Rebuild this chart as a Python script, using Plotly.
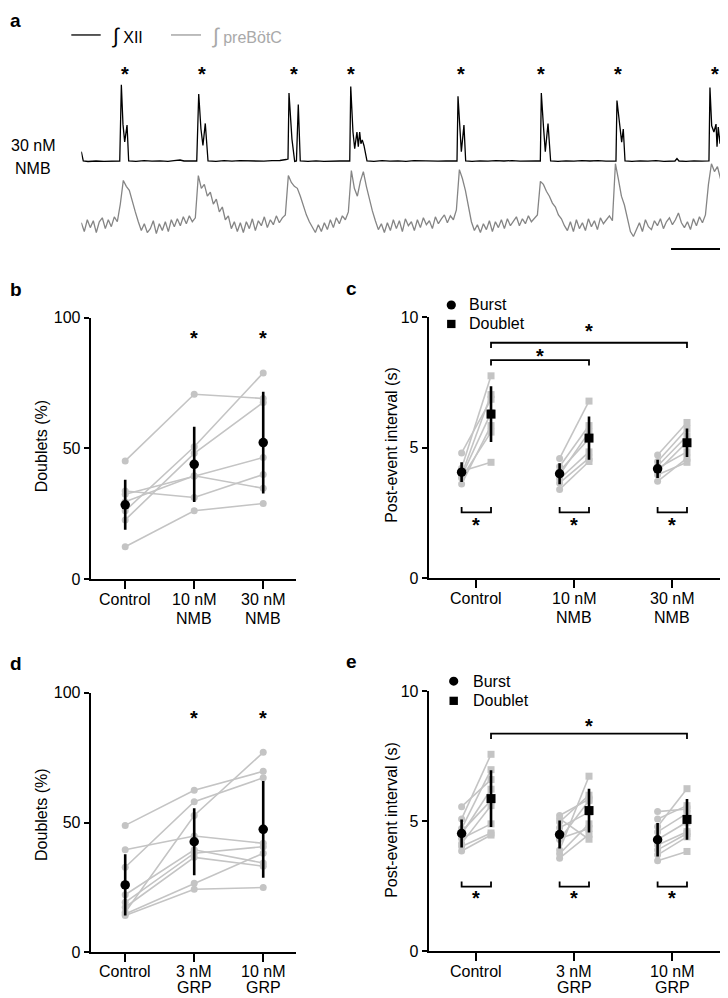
import plotly.graph_objects as go

W, H = 728, 998
FONT = "Liberation Sans, Arial, Helvetica, sans-serif"
INK = "#000000"
PALE = "#c4c4c4"
TRACE_GREY = "#858585"
LEGEND_GREY = "#a9a9a9"

# ============================ DATA ============================
# Panel a - integrated XII nerve activity (time s, amplitude a.u.)
xii_trace = [
    (0.00, 9.5), (0.08, 3.5), (0.16, 0), (0.54, -0.5), (1.19, 0), (1.83, -0.3), (2.48, 0.2), (3.10, 0),
    (3.23, 77.5), (3.36, 37.5), (3.50, 19.5), (3.69, 36.5), (3.82, 0), (4.41, -0.4), (5.06, 0.3),
    (5.70, -0.2), (6.35, 0.2), (6.99, -0.3), (7.48, 0.3), (7.96, 1.0), (8.28, 0), (8.77, -0.3), (9.31, 0),
    (9.47, 68.2), (9.65, 32.5), (9.81, 15.8), (10.00, 38.2), (10.22, 0), (10.86, -0.3), (11.51, 0.3),
    (12.15, -0.2), (12.80, 0.3), (13.44, 0), (14.09, 0.4), (14.73, -0.2), (15.38, 0.3), (16.02, 0.5),
    (16.51, 1.5), (16.67, 2.0), (16.75, 69.2), (16.99, 22.0), (17.21, -0.5), (17.35, 0), (17.50, 57.5),
    (17.66, 0), (18.28, -0.3), (18.93, 0.2), (19.57, -0.3), (20.22, 0.2), (20.86, 0), (21.65, 0),
    (21.73, 75.8), (21.91, 29.5), (22.05, 12.5), (22.23, 29.5), (22.34, 14.5), (22.45, 29.5),
    (22.55, 17.5), (22.66, 21.5), (22.80, 15.5), (23.04, 0), (23.60, -0.3), (24.25, 0.3), (24.89, -0.2),
    (25.54, 0.2), (26.19, -0.3), (26.83, 0.3), (27.48, 0), (28.12, 0.3), (28.77, -0.2), (29.41, 0.2),
    (30.30, 0), (30.38, 65.8), (30.54, 32.5), (30.65, 9.5), (30.86, 36.5), (31.00, 0), (31.51, -0.3),
    (32.15, 0.2), (32.80, -0.2), (33.44, 0.3), (34.09, 0), (34.73, 0.4), (35.38, -0.2), (36.02, 0.2),
    (36.67, 0), (37.02, 0), (37.10, 69.2), (37.27, 35.5), (37.42, 9.5), (37.64, 38.2), (37.85, 0),
    (38.44, -0.3), (39.09, 0.2), (39.73, -0.2), (40.38, 0.3), (41.02, 0), (41.67, 0.3), (42.31, -0.2),
    (43.12, 0), (43.20, 61.5), (43.39, 39.5), (43.58, 19.2), (43.71, 32.5), (43.85, 0), (44.41, -0.3),
    (45.06, 0.2), (45.70, -0.2), (46.35, 0.3), (46.99, -0.3), (47.64, 0.2), (47.88, 0), (48.04, 2.5),
    (48.20, 0), (48.77, -0.3), (49.41, 0.2), (50.06, -0.2), (50.62, 0), (50.70, 74.8), (50.84, 35.8),
    (51.02, 29.5), (51.19, 37.5), (51.27, 14.5), (51.37, 34.5), (51.51, 17.5), (51.61, 34.5),
    (51.75, 12.5), (51.94, 0), (52.15, -0.3), (52.64, 0),
]
# Panel a - integrated preBotC population activity, uniformly sampled (a.u.)
prebotc_dt = 0.242
prebotc_trace = [
    3, -6, 6, -2, 5, -7, 4, 8, -3, 6, -1, 9, 4,
    22, 46, 40, 36, 24, 14, 4, -5, 2, -7,
    -3, 5, -8, 2, -5, 4, -6, 6, -1, 7, 0, 9, 2, 10, 4, 8,
    51, 38, 42, 30, 34, 22, 27, 14, 19, 6, 10, -3, 4, -6,
    3, -7, 4, -3, 7, -5, 5, 0, 9, -2, 6, 1, 10, 3, 8, 11,
    51, 44, 40, 38, 30, 20, 11, 4, -2, -7, 1,
    -6, 3, -4, 6, -2, 8, 2, 10, 6,
    14, 56, 38, 30, 45, 55, 40, 27, 15, 5, -4, 2,
    -7, 3, -5, 6, -3, 5, -6, 7, 0, 4, -5, 6, -2, 8, 1, 5, -3, 9, 2, 7, 11, 3, 10, 6,
    16, 57, 48, 36, 18, 4, -5, 1,
    -7, 2, -4, 5, -6, 4, -2, 6, -3, 7, 0, 5, 9, 0, 7, 2, 10, 4, 8, 11,
    45, 42, 35, 30, 23, 19, 11, 7, 0, -5,
    4, -6, 6, -3, 3, -5, 7, -1, 5, -4, 8, 2, 6, 10, 5,
    63, 47, 30, 21, 7, -6, -11, -3,
    3, -6, 6, -1, -4, 5, 0, 7, -3, 4, 8, 1, 6, 13, 3, -2, 4, -4, 7, 0, 9, 3,
    11, 42, 63, 55, 60, 48, 41, 32, 19, 4, 0,
]
doublet_marks_t = [3.50, 9.73, 17.13, 21.73, 30.60, 37.05, 43.31, 51.11]
scale_bar_len_s = 5.0

# Panel b - doublets (%) with NMB
b_categories = ["Control", "10 nM<br>NMB", "30 nM<br>NMB"]
b_subjects = [
    [45.2, 70.7, 69.1],
    [26.1, 50.6, 78.9],
    [22.6, 48.1, 67.6],
    [32.4, 39.3, 46.5],
    [29.6, 39.5, 34.7],
    [33.7, 31.2, 40.0],
    [12.3, 26.1, 28.9],
]
b_mean = [28.4, 43.9, 52.2]
b_sd = [9.6, 14.4, 19.5]
b_sig = [1, 2]

# Panel c - post-event interval (s) with NMB
c_categories = ["Control", "10 nM<br>NMB", "30 nM<br>NMB"]
c_burst = [[4.80, 4.21, 4.10, 3.96, 3.84, 3.90, 3.61],
           [4.59, 4.28, 4.10, 3.96, 3.80, 3.65, 3.40],
           [4.72, 4.47, 4.30, 4.21, 4.10, 3.96, 3.71]]
c_doublet = [[6.86, 7.76, 4.44, 7.04, 5.60, 6.35, 5.85],
             [6.79, 5.85, 5.35, 5.60, 4.84, 4.60, 4.47],
             [5.97, 5.72, 5.45, 4.84, 5.22, 4.44, 4.60]]
c_burst_mean = [4.06, 4.00, 4.19]
c_burst_sd = [0.38, 0.40, 0.35]
c_doublet_mean = [6.29, 5.37, 5.19]
c_doublet_sd = [1.07, 0.83, 0.55]
c_between_sig = [(0, 1), (0, 2)]
c_within_sig = [0, 1, 2]

# Panel d - doublets (%) with GRP
d_categories = ["Control", "3 nM<br>GRP", "10 nM<br>GRP"]
d_subjects = [
    [48.9, 62.4, 69.7],
    [39.5, 44.8, 42.0],
    [32.8, 58.0, 67.2],
    [22.2, 39.5, 34.4],
    [19.3, 38.2, 40.7],
    [17.4, 36.6, 33.2],
    [15.5, 52.7, 77.0],
    [14.2, 24.3, 25.0],
    [14.8, 26.6, 38.2],
]
d_mean = [26.0, 42.6, 47.4]
d_sd = [11.8, 12.9, 18.6]
d_sig = [1, 2]

# Panel e - post-event interval (s) with GRP
e_categories = ["Control", "3 nM<br>GRP", "10 nM<br>GRP"]
e_burst = [[5.56, 5.09, 4.72, 4.60, 4.50, 4.34, 4.15, 4.03, 3.86],
           [5.22, 5.10, 4.97, 4.75, 4.34, 4.30, 3.90, 3.75, 3.58],
           [5.37, 5.09, 4.80, 4.59, 4.30, 4.09, 3.90, 3.71, 3.48]]
e_doublet = [[6.60, 7.57, 6.98, 5.80, 6.23, 4.90, 5.60, 4.55, 4.47],
             [5.85, 4.31, 6.00, 5.35, 4.72, 5.80, 6.73, 4.90, 4.50],
             [5.47, 5.60, 6.25, 5.30, 4.97, 4.60, 4.53, 4.40, 3.84]]
e_burst_mean = [4.53, 4.49, 4.29]
e_burst_sd = [0.54, 0.54, 0.64]
e_doublet_mean = [5.87, 5.41, 5.07]
e_doublet_sd = [1.09, 0.84, 0.78]
e_between_sig = [(0, 2)]
e_within_sig = [0, 1, 2]

# ============================ LAYOUT GEOMETRY ============================
def PX(x):
    return x / W


def PY(y):
    return 1 - y / H


OFF = 0.15            # burst / doublet horizontal offset within category
STAR_SIZE = 20
STAR_SHIFT = -2       # move asterisk glyph centre onto the anchor

panels = {
    "b": dict(xa="x", ya="y", xd=(82.7, 288.0), yd=(572.7, 307.0), xr=(-0.50, 2.475),
              yr=(0, 100), yt=[0, 50, 100], title="Doublets (%)", tpos=(33.3, 437.5),
              lab=(20.7, 18.6)),
    "c": dict(xa="x2", ya="y2", xd=(420.7, 712.7), yd=(571.7, 306.7), xr=(-0.486, 2.494),
              yr=(0, 10), yt=[0, 5, 10], title="Post-event interval (s)", tpos=(383.3, 436.0),
              lab=(20.7, 18.6)),
    "d": dict(xa="x3", ya="y3", xd=(82.7, 288.0), yd=(952.7, 688.3), xr=(-0.50, 2.475),
              yr=(0, 100), yt=[0, 50, 100], title="Doublets (%)", tpos=(33.3, 812.5),
              lab=(19.3, 16.0)),
    "e": dict(xa="x4", ya="y4", xd=(420.7, 712.7), yd=(951.7, 686.7), xr=(-0.486, 2.494),
              yr=(0, 10), yt=[0, 5, 10], title="Post-event interval (s)", tpos=(383.3, 817.5),
              lab=(19.8, 16.0)),
}

fig = go.Figure()
annotations = []
shapes = []


def axkey(a):
    return ("xaxis" if a[0] == "x" else "yaxis") + a[1:]


layout_axes = {}
axis_common = dict(showline=True, linecolor=INK, linewidth=2, ticks="outside", tickcolor=INK,
                   tickwidth=2, showgrid=False, zeroline=False, fixedrange=True,
                   tickfont=dict(size=16, color=INK, family=FONT))

for key, p in panels.items():
    layout_axes[axkey(p["xa"])] = dict(axis_common, domain=[PX(p["xd"][0]), PX(p["xd"][1])],
                                       range=list(p["xr"]), anchor=p["ya"], tickvals=[0, 1, 2],
                                       showticklabels=False, ticklen=8)
    layout_axes[axkey(p["ya"])] = dict(axis_common, domain=[PY(p["yd"][0]), PY(p["yd"][1])],
                                       range=list(p["yr"]), anchor=p["xa"], tickvals=p["yt"],
                                       ticklen=5)
    annotations.append(dict(text=p["title"], x=PX(p["tpos"][0]), y=PY(p["tpos"][1]), xref="paper",
                            yref="paper", textangle=-90, showarrow=False, xanchor="center",
                            yanchor="middle", font=dict(size=16)))


def category_labels(p, cats):
    first, step = p["lab"]
    for i, lab in enumerate(cats):
        for j, line in enumerate(lab.split("<br>")):
            annotations.append(dict(text=line, x=i, xref=p["xa"], y=0, yref=p["ya"] + " domain",
                                    yshift=-(first + step * j), showarrow=False, xanchor="center",
                                    yanchor="middle", font=dict(size=16)))


def star(x, y, xref, yref):
    annotations.append(dict(text="<b>*</b>", x=x, y=y, xref=xref, yref=yref, showarrow=False,
                            xanchor="center", yanchor="middle", yshift=STAR_SHIFT,
                            font=dict(size=STAR_SIZE, color=INK)))


def doublet_panel(p, cats, subjects, mean, sd, sig, star_y):
    for s in subjects:
        fig.add_trace(go.Scatter(x=[0, 1, 2], y=s, mode="lines+markers", xaxis=p["xa"], yaxis=p["ya"],
                                 line=dict(color=PALE, width=1.6), marker=dict(color=PALE, size=7),
                                 cliponaxis=False, hoverinfo="skip"))
    fig.add_trace(go.Scatter(x=[0, 1, 2], y=mean, mode="markers", xaxis=p["xa"], yaxis=p["ya"],
                             marker=dict(color=INK, size=9.5), cliponaxis=False,
                             error_y=dict(type="data", array=sd, visible=True, color=INK,
                                          thickness=2.6, width=0)))
    for i in sig:
        star(i, star_y, p["xa"], p["ya"])
    category_labels(p, cats)


def interval_panel(p, cats, burst, doublet, bm, bsd, dm, dsd, between, between_lv, within, within_lv):
    for i in range(len(cats)):
        for bv, dv in zip(burst[i], doublet[i]):
            fig.add_trace(go.Scatter(x=[i - OFF, i + OFF], y=[bv, dv], mode="lines+markers",
                                     xaxis=p["xa"], yaxis=p["ya"], line=dict(color=PALE, width=1.6),
                                     marker=dict(color=PALE, size=7, symbol=["circle", "square"]),
                                     cliponaxis=False, hoverinfo="skip"))
    xs = list(range(len(cats)))
    fig.add_trace(go.Scatter(x=[i - OFF for i in xs], y=bm, mode="markers", xaxis=p["xa"], yaxis=p["ya"],
                             marker=dict(color=INK, size=9.5, symbol="circle"), cliponaxis=False,
                             error_y=dict(type="data", array=bsd, visible=True, color=INK,
                                          thickness=2.6, width=0)))
    fig.add_trace(go.Scatter(x=[i + OFF for i in xs], y=dm, mode="markers", xaxis=p["xa"], yaxis=p["ya"],
                             marker=dict(color=INK, size=9, symbol="square"), cliponaxis=False,
                             error_y=dict(type="data", array=dsd, visible=True, color=INK,
                                          thickness=2.6, width=0)))
    tick = 0.2
    for (a, b), (lv, sy) in zip(between, between_lv):
        fig.add_trace(go.Scatter(x=[a + OFF, a + OFF, b + OFF, b + OFF], y=[lv - tick, lv, lv, lv - tick],
                                 mode="lines", xaxis=p["xa"], yaxis=p["ya"],
                                 line=dict(color=INK, width=1.8), cliponaxis=False, hoverinfo="skip"))
        star((a + b) / 2 + OFF, sy, p["xa"], p["ya"])
    lv, sy = within_lv
    for i in within:
        fig.add_trace(go.Scatter(x=[i - OFF, i - OFF, i + OFF, i + OFF], y=[lv + tick, lv, lv, lv + tick],
                                 mode="lines", xaxis=p["xa"], yaxis=p["ya"],
                                 line=dict(color=INK, width=1.8), cliponaxis=False, hoverinfo="skip"))
        star(i, sy, p["xa"], p["ya"])
    category_labels(p, cats)


doublet_panel(panels["b"], b_categories, b_subjects, b_mean, b_sd, b_sig, 93.0)
doublet_panel(panels["d"], d_categories, d_subjects, d_mean, d_sd, d_sig, 90.8)
interval_panel(panels["c"], c_categories, c_burst, c_doublet, c_burst_mean, c_burst_sd,
               c_doublet_mean, c_doublet_sd, c_between_sig, [(8.36, 8.60), (9.03, 9.56)],
               c_within_sig, (2.52, 2.10))
interval_panel(panels["e"], e_categories, e_burst, e_doublet, e_burst_mean, e_burst_sd,
               e_doublet_mean, e_doublet_sd, e_between_sig, [(8.36, 8.74)],
               e_within_sig, (2.49, 2.14))

# Legends for c and e (circle = burst, square = doublet)
for (cx, cy, sy, tx) in [(443.3, 294.0, 313.3, 458.5), (445.7, 676.7, 696.7, 463.0)]:
    r = 4.6
    shapes.append(dict(type="circle", xref="paper", yref="paper", x0=PX(cx - r), x1=PX(cx + r),
                       y0=PY(cy + r), y1=PY(cy - r), fillcolor=INK, line=dict(width=0)))
    s = 4.2
    shapes.append(dict(type="rect", xref="paper", yref="paper", x0=PX(cx - s), x1=PX(cx + s),
                       y0=PY(sy + s), y1=PY(sy - s), fillcolor=INK, line=dict(width=0)))
    annotations.append(dict(text="Burst", x=PX(tx), y=PY(cy), xref="paper", yref="paper",
                            showarrow=False, xanchor="left", yanchor="middle", font=dict(size=16)))
    annotations.append(dict(text="Doublet", x=PX(tx), y=PY(sy), xref="paper", yref="paper",
                            showarrow=False, xanchor="left", yanchor="middle", font=dict(size=16)))

# ---------------- Panel a: traces ----------------
A_TOP, A_BOT = 40.0, 250.0
XII_OFFSET = A_BOT - 147.5
PRE_OFFSET = A_BOT - 213.3
layout_axes["xaxis5"] = dict(domain=[PX(73.3), PX(727.0)], range=[0, 52.72], visible=False,
                             anchor="y5", fixedrange=True)
layout_axes["yaxis5"] = dict(domain=[PY(A_BOT), PY(A_TOP)], range=[0, A_BOT - A_TOP], visible=False,
                             anchor="x5", fixedrange=True)
fig.add_trace(go.Scatter(x=[t for t, _ in xii_trace], y=[v + XII_OFFSET for _, v in xii_trace],
                         mode="lines", xaxis="x5", yaxis="y5", line=dict(color=INK, width=1.3),
                         hoverinfo="skip"))
fig.add_trace(go.Scatter(x=[i * prebotc_dt for i in range(len(prebotc_trace))],
                         y=[v + PRE_OFFSET for v in prebotc_trace], mode="lines", xaxis="x5",
                         yaxis="y5", line=dict(color=TRACE_GREY, width=1.3), hoverinfo="skip"))
for t in doublet_marks_t:
    star(t, A_BOT - 57.0, "x5", "y5")
bar_end = 52.56
fig.add_trace(go.Scatter(x=[bar_end - scale_bar_len_s, bar_end], y=[A_BOT - 237.0] * 2, mode="lines",
                         xaxis="x5", yaxis="y5", line=dict(color=INK, width=2), hoverinfo="skip",
                         cliponaxis=False))

# panel a legend
INTEGRAL = "<span style='font-size:21px'>∫</span>"
shapes.append(dict(type="line", xref="paper", yref="paper", x0=PX(63.3), x1=PX(92.7), y0=PY(19.3),
                   y1=PY(19.3), line=dict(color=INK, width=1.3)))
annotations.append(dict(text=INTEGRAL + " XII", x=PX(101.5), y=PY(20.5), xref="paper", yref="paper",
                        showarrow=False, xanchor="left", yanchor="middle", font=dict(size=16, color=INK)))
shapes.append(dict(type="line", xref="paper", yref="paper", x0=PX(163.0), x1=PX(193.0), y0=PY(19.3),
                   y1=PY(19.3), line=dict(color="#9a9a9a", width=1.3)))
annotations.append(dict(text=INTEGRAL + " preBötC", x=PX(202.0), y=PY(20.5), xref="paper",
                        yref="paper", showarrow=False, xanchor="left", yanchor="middle",
                        font=dict(size=16, color=LEGEND_GREY)))
annotations.append(dict(text="30 nM", x=PX(24.5), y=PY(131.7), xref="paper", yref="paper",
                        showarrow=False, xanchor="center", yanchor="middle", font=dict(size=16)))
annotations.append(dict(text="NMB", x=PX(24.5), y=PY(155.0), xref="paper", yref="paper",
                        showarrow=False, xanchor="center", yanchor="middle", font=dict(size=16)))

# panel letters
for letter, lx, ly in [("a", -0.5, 5.0), ("b", -0.5, 278.5), ("c", 336.0, 277.0),
                       ("d", -0.5, 659.0), ("e", 336.0, 656.5)]:
    annotations.append(dict(text="<b>%s</b>" % letter, x=PX(lx), y=PY(ly), xref="paper", yref="paper",
                            showarrow=False, xanchor="left", yanchor="middle", font=dict(size=19)))

fig.update_layout(width=W, height=H, autosize=False, margin=dict(l=0, r=0, t=0, b=0),
                  paper_bgcolor="white", plot_bgcolor="white", showlegend=False,
                  font=dict(family=FONT, color=INK, size=16),
                  annotations=annotations, shapes=shapes, **layout_axes)

fig.write_html("out.html")
